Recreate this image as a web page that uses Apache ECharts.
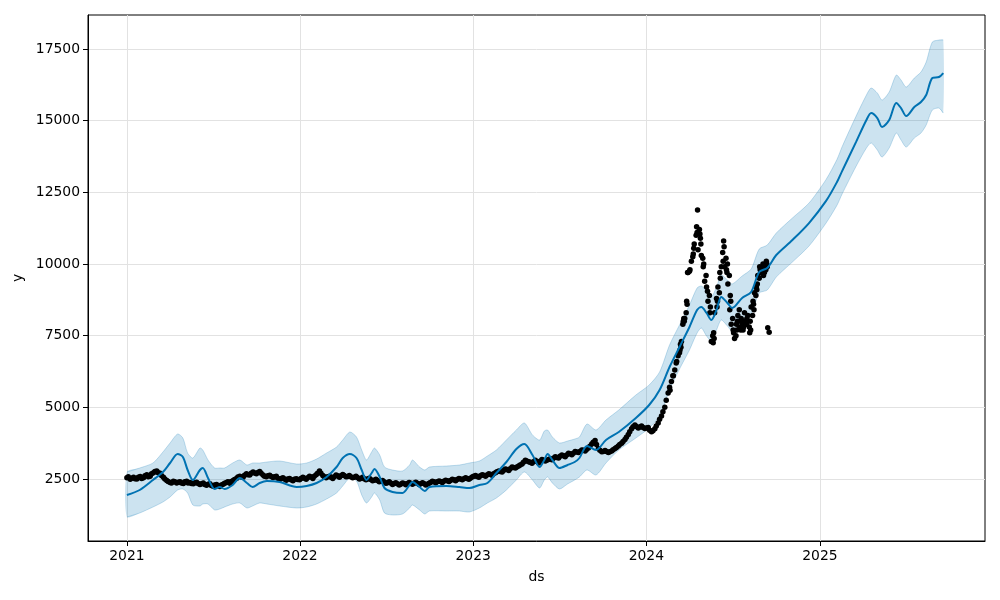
<!DOCTYPE html>
<html><head><meta charset="utf-8">
<script src="https://cdn.jsdelivr.net/npm/echarts@6/dist/echarts.min.js"></script>
<style>html,body{margin:0;padding:0;background:#fff}#c{width:1000px;height:600px}</style>
</head><body><div id="c"></div>
<script>
// ---- Forecast (yhat, yhat_lower, yhat_upper) ----
const fcDates = ['2021-01-01','2021-01-28','2021-02-25','2021-03-18','2021-04-02','2021-04-18','2021-04-29','2021-05-09','2021-05-20','2021-06-04',
'2021-06-10','2021-06-21','2021-07-05','2021-07-16','2021-07-26','2021-08-12','2021-08-27','2021-09-11','2021-09-23','2021-10-08',
'2021-10-23','2021-11-19','2021-12-25','2022-01-15','2022-02-05','2022-02-26','2022-03-19','2022-04-01','2022-04-16','2022-04-30',
'2022-05-11','2022-05-21','2022-06-01','2022-06-07','2022-06-18','2022-06-28','2022-07-15','2022-08-05','2022-08-20','2022-08-26',
'2022-09-10','2022-09-21','2022-10-01','2022-11-06','2022-12-03','2022-12-24','2023-01-14','2023-01-31','2023-02-19','2023-03-12',
'2023-04-02','2023-04-19','2023-05-06','2023-05-21','2023-05-31','2023-06-07','2023-06-17','2023-07-02','2023-07-19','2023-08-03',
'2023-08-13','2023-08-29','2023-09-17','2023-10-08','2023-11-04','2023-12-10','2024-01-07','2024-01-29','2024-02-19','2024-03-11',
'2024-04-01','2024-04-17','2024-04-26','2024-05-07','2024-05-17','2024-05-28','2024-06-07','2024-06-20','2024-06-30','2024-07-21',
'2024-08-09','2024-08-26','2024-09-12','2024-10-01','2024-11-04','2024-12-09','2025-01-14','2025-02-06','2025-02-17','2025-03-18',
'2025-04-09','2025-04-19','2025-05-02','2025-05-12','2025-05-27','2025-06-11','2025-06-21','2025-07-02','2025-07-19','2025-08-02',
'2025-08-13','2025-08-26','2025-09-09','2025-09-18'];
const yhat = [1942,2116,2465,2744,3058,3372,3267,2814,2465,2814,
2884,2535,2151,2221,2151,2291,2535,2360,2221,2360,
2430,2395,2221,2256,2360,2570,2919,3232,3372,3232,
2814,2465,2709,2849,2570,2186,2047,2012,2291,2395,
2221,2081,2221,2256,2221,2186,2291,2360,2709,3093,
3546,3721,3337,2919,3163,3372,3163,2884,2988,3093,
3232,3651,3512,3860,4139,4628,5081,5604,6407,7104,
7802,8395,8499,8290,8046,8395,8848,8639,8464,8813,
9023,9720,9860,10313,10836,11429,12200,12860,13250,14250,
15022,15266,15092,14778,15022,15615,15440,15161,15475,15650,
15894,16487,16522,16661];
const yhatUpper = [2744,2884,3058,3442,3756,4070,3930,3407,3232,3581,
3512,3163,2884,2884,2884,3058,3163,2988,3058,3058,
3093,3128,3023,3058,3198,3407,3616,3860,4139,3965,
3512,3163,3442,3581,3337,2919,2814,2779,2988,3163,
2919,2814,2919,2953,2988,3058,3128,3302,3512,3860,
4209,4453,4035,3860,4174,4209,3965,3756,3825,3895,
3965,4418,4209,4558,4907,5430,5779,6232,7174,7872,
8569,9162,9232,9057,8848,9197,9616,9441,9302,9581,
9825,10522,10662,11080,11604,12127,12950,13650,14100,15150,
15894,16138,15964,15720,15999,16592,16417,16173,16487,16696,
17045,17743,17812,17812];
const yhatLower = [1175,1314,1523,1698,1872,2116,2151,2012,1593,1558,
1628,1628,1419,1454,1523,1628,1663,1488,1558,1663,
1628,1558,1488,1523,1628,1802,2012,2256,2535,2430,
1942,1663,1872,2012,1767,1314,1244,1279,1488,1593,
1419,1279,1384,1384,1384,1349,1488,1663,1837,2116,
2465,2744,2465,2186,2465,2570,2360,2151,2326,2465,
2570,2814,2640,3058,3512,3930,4279,4697,5604,6337,
7000,7592,7767,7488,7313,7697,8046,7837,7662,8011,
8255,8988,9092,9546,10069,10627,11430,12050,12450,13400,
14045,14220,13976,13731,14045,14568,14324,14080,14394,14568,
14848,15371,15440,15266];

// ---- Observed points (Fridays + 2024 days) ----
const obsDates = [
'2021-01-01','2021-01-08','2021-01-15','2021-01-22','2021-01-29','2021-02-05','2021-02-12','2021-02-19','2021-02-26','2021-03-05',
'2021-03-12','2021-03-19','2021-03-26','2021-04-02','2021-04-09','2021-04-16','2021-04-23','2021-04-30','2021-05-07','2021-05-14',
'2021-05-21','2021-05-28','2021-06-04','2021-06-11','2021-06-18','2021-06-25','2021-07-02','2021-07-09','2021-07-16','2021-07-23',
'2021-07-30','2021-08-06','2021-08-13','2021-08-20','2021-08-27','2021-09-03','2021-09-10','2021-09-17','2021-09-24','2021-10-01',
'2021-10-08','2021-10-15','2021-10-22','2021-10-29','2021-11-05','2021-11-12','2021-11-19','2021-11-26','2021-12-03','2021-12-10',
'2021-12-17','2021-12-24','2021-12-31',
'2022-01-07','2022-01-14','2022-01-21','2022-01-28','2022-02-04','2022-02-11','2022-02-18','2022-02-25',
'2022-03-04','2022-03-11','2022-03-18','2022-03-25','2022-04-01','2022-04-08','2022-04-15','2022-04-22','2022-04-29',
'2022-05-06','2022-05-13','2022-05-20','2022-05-27','2022-06-03','2022-06-10','2022-06-17','2022-06-24',
'2022-07-01','2022-07-08','2022-07-15','2022-07-22','2022-07-29','2022-08-05','2022-08-12','2022-08-19','2022-08-26',
'2022-09-02','2022-09-09','2022-09-16','2022-09-23','2022-09-30','2022-10-07','2022-10-14','2022-10-21','2022-10-28',
'2022-11-04','2022-11-11','2022-11-18','2022-11-25','2022-12-02','2022-12-09','2022-12-16','2022-12-23','2022-12-30',
'2023-01-06','2023-01-13','2023-01-20','2023-01-27','2023-02-03','2023-02-10','2023-02-17','2023-02-24',
'2023-03-03','2023-03-10','2023-03-17','2023-03-24','2023-03-31','2023-04-07','2023-04-14','2023-04-21','2023-04-28',
'2023-05-05','2023-05-12','2023-05-19','2023-05-26','2023-06-02','2023-06-09','2023-06-16','2023-06-23','2023-06-30',
'2023-07-07','2023-07-14','2023-07-21','2023-07-28','2023-08-04','2023-08-11','2023-08-18','2023-08-25',
'2023-09-01','2023-09-08','2023-09-15','2023-09-22','2023-09-29','2023-10-06','2023-10-13','2023-10-20','2023-10-27',
'2023-11-03','2023-11-10','2023-11-17','2023-11-24','2023-12-01','2023-12-08','2023-12-15','2023-12-22','2023-12-29',
'2024-01-05','2024-01-12','2024-01-19','2024-01-26','2024-02-02','2024-02-09','2024-02-16','2024-02-23',
'2024-03-01','2024-03-08','2024-03-12','2024-03-15','2024-03-19','2024-03-22','2024-03-26','2024-03-29',
'2024-04-02','2024-04-05','2024-04-09','2024-04-11','2024-04-15','2024-04-18','2024-04-19','2024-04-22','2024-04-24','2024-04-26','2024-04-30',
'2024-05-03','2024-05-07','2024-05-10','2024-05-14','2024-05-17','2024-05-20','2024-05-22','2024-05-24','2024-05-28','2024-05-31',
'2024-06-04','2024-06-07','2024-06-10','2024-06-12','2024-06-14','2024-06-18','2024-06-21','2024-06-25','2024-06-28',
'2024-07-02','2024-07-05','2024-07-09','2024-07-12','2024-07-16','2024-07-19','2024-07-23','2024-07-26','2024-07-30',
'2024-08-02','2024-08-06','2024-08-09','2024-08-13','2024-08-16','2024-08-20','2024-08-23','2024-08-27','2024-08-30',
'2024-09-03','2024-09-06','2024-09-10','2024-09-13','2024-09-16','2024-09-17'];
const obsValues = [
2540,2490,2560,2500,2590,2540,2650,2600,2720,2780,
2700,2560,2450,2380,2420,2360,2400,2340,2420,2380,
2330,2390,2310,2360,2280,2330,2250,2310,2240,2320,
2380,2350,2450,2520,2600,2560,2680,2640,2740,2680,
2760,2640,2580,2630,2550,2600,2480,2540,2460,2520,
2440,2510,2470,
2560,2490,2600,2520,2650,2780,2620,2540,
2600,2520,2640,2560,2660,2580,2620,2540,2600,
2500,2560,2470,2530,2440,2490,2400,2450,
2350,2400,2310,2370,2290,2360,2300,2380,2320,
2390,2310,2370,2290,2350,2420,2370,2430,2380,
2460,2410,2490,2440,2520,2470,2540,2490,2570,
2620,2560,2650,2600,2680,2630,2720,2780,
2740,2850,2800,2920,2880,2950,3020,3150,3100,
3050,3150,3060,3180,3130,3180,3170,3280,3230,
3340,3280,3400,3350,3460,3420,3510,3480,
3580,3720,3840,3560,3450,3490,3420,3480,3560,
3650,3750,3880,4050,4250,4380,4280,4350,4260,
4300,4150,4250,4450,4700,5000,5500,5900,
6300,6800,7000,7300,8000,8100,8700,9700,
9800,10100,10350,10700,11000,11880,10500,11200,10900,10300,
9900,9400,9200,8700,8300,7300,7500,7600,8300,8800,
9200,9700,9900,10400,10800,9900,9800,9300,8400,
7900,7700,7400,7900,8200,7800,8100,7700,8300,
7900,8200,7600,8500,8700,9000,9200,9600,9900,
9800,10000,9700,10100,7780,7620];

// ---- Observed points (Mondays 2021 - early 2024) ----
const monDates = [
'2021-01-04','2021-01-11','2021-01-18','2021-01-25','2021-02-01','2021-02-08','2021-02-15','2021-02-22','2021-03-01','2021-03-08',
'2021-03-15','2021-03-22','2021-03-29','2021-04-05','2021-04-12','2021-04-19','2021-04-26','2021-05-03','2021-05-10','2021-05-17',
'2021-05-24','2021-05-31','2021-06-07','2021-06-14','2021-06-21','2021-06-28','2021-07-05','2021-07-12','2021-07-19','2021-07-26',
'2021-08-02','2021-08-09','2021-08-16','2021-08-23','2021-08-30','2021-09-06','2021-09-13','2021-09-20','2021-09-27','2021-10-04',
'2021-10-11','2021-10-18','2021-10-25','2021-11-01','2021-11-08','2021-11-15','2021-11-22','2021-11-29','2021-12-06','2021-12-13',
'2021-12-20','2021-12-27',
'2022-01-03','2022-01-10','2022-01-17','2022-01-24','2022-01-31','2022-02-07','2022-02-14','2022-02-21','2022-02-28','2022-03-07',
'2022-03-14','2022-03-21','2022-03-28','2022-04-04','2022-04-11','2022-04-18','2022-04-25','2022-05-02','2022-05-09','2022-05-16',
'2022-05-23','2022-05-30','2022-06-06','2022-06-13','2022-06-20','2022-06-27','2022-07-04','2022-07-11','2022-07-18','2022-07-25',
'2022-08-01','2022-08-08','2022-08-15','2022-08-22','2022-08-29','2022-09-05','2022-09-12','2022-09-19','2022-09-26','2022-10-03',
'2022-10-10','2022-10-17','2022-10-24','2022-10-31','2022-11-07','2022-11-14','2022-11-21','2022-11-28','2022-12-05','2022-12-12',
'2022-12-19','2022-12-26',
'2023-01-02','2023-01-09','2023-01-16','2023-01-23','2023-01-30','2023-02-06','2023-02-13','2023-02-20','2023-02-27','2023-03-06',
'2023-03-13','2023-03-20','2023-03-27','2023-04-03','2023-04-10','2023-04-17','2023-04-24','2023-05-01','2023-05-08','2023-05-15',
'2023-05-22','2023-05-29','2023-06-05','2023-06-12','2023-06-19','2023-06-26','2023-07-03','2023-07-10','2023-07-17','2023-07-24',
'2023-07-31','2023-08-07','2023-08-14','2023-08-21','2023-08-28','2023-09-04','2023-09-11','2023-09-18','2023-09-25','2023-10-02',
'2023-10-09','2023-10-16','2023-10-23','2023-10-30','2023-11-06','2023-11-13','2023-11-20','2023-11-27','2023-12-04','2023-12-11',
'2023-12-18','2023-12-25',
'2024-01-01','2024-01-08','2024-01-15','2024-01-22','2024-01-29','2024-02-05','2024-02-12','2024-02-19','2024-02-26','2024-03-04'];
const monValues = [
2580,2530,2510,2560,2520,2610,2580,2680,2760,2720,
2620,2500,2410,2360,2400,2390,2360,2400,2360,2340,
2370,2340,2330,2310,2320,2270,2290,2260,2290,2350,
2400,2410,2480,2570,2570,2630,2650,2700,2710,2730,
2700,2600,2610,2590,2580,2530,2520,2500,2500,2470,
2490,2480,
2520,2530,2540,2570,2600,2700,2700,2580,2580,2560,
2580,2610,2610,2620,2590,2580,2560,2550,2520,2510,
2500,2480,2460,2450,2420,2400,2370,2360,2340,2330,
2320,2340,2340,2350,2350,2350,2330,2340,2320,2380,
2400,2400,2410,2420,2440,2450,2470,2480,2500,2510,
2520,2530,
2600,2590,2610,2630,2640,2660,2680,2750,2760,2800,
2830,2860,2900,2920,2990,3080,3130,3080,3100,3110,
3120,3150,3150,3200,3220,3250,3290,3310,3340,3380,
3400,3440,3460,3500,3530,3640,3780,3700,3500,3460,
3460,3450,3520,3600,3700,3810,3960,4150,4320,4330,
4310,4300,
4280,4200,4180,4350,4580,4850,5250,5700,6100,6550];

// ---- Extra observed points (Feb - Sep 2024) ----
const extraDates = [
'2024-02-20','2024-02-27','2024-03-05','2024-03-11','2024-03-13','2024-03-14','2024-03-18','2024-03-20','2024-03-21','2024-03-25','2024-03-27','2024-03-28',
'2024-04-01','2024-04-08','2024-04-10','2024-04-16','2024-04-17','2024-04-23','2024-04-25','2024-04-29','2024-05-01',
'2024-05-06','2024-05-09','2024-05-13','2024-05-15','2024-05-21','2024-05-23','2024-05-29','2024-05-30',
'2024-06-03','2024-06-05','2024-06-11','2024-06-13','2024-06-17','2024-06-19','2024-06-20','2024-06-24','2024-06-26','2024-06-27',
'2024-07-01','2024-07-03','2024-07-08','2024-07-10','2024-07-11','2024-07-15','2024-07-17','2024-07-18','2024-07-22','2024-07-24','2024-07-25','2024-07-29','2024-07-31',
'2024-08-01','2024-08-05','2024-08-07','2024-08-08','2024-08-12','2024-08-14','2024-08-15','2024-08-19','2024-08-21','2024-08-22','2024-08-26','2024-08-28','2024-08-29',
'2024-09-02','2024-09-04','2024-09-05','2024-09-09','2024-09-11','2024-09-12'];
const extraValues = [
5600,6100,6600,6900,7200,7100,7900,8100,8000,8300,8600,9700,
9750,10250,10550,11300,11100,11050,10700,10200,10000,
9600,9050,8900,8500,7250,7400,8500,8700,
9000,9500,10100,10600,10200,9700,10000,9600,8900,8700,
8100,7600,7500,7700,8000,8400,8000,7700,7900,7800,8000,7900,8100,
8000,7800,8000,7700,8200,8600,8400,8900,9100,9300,9500,9800,9700,
9900,9600,9900,9800,10000,9900];

// ---- Axes ----
const yTicks = [2500,5000,7500,10000,12500,15000,17500];
const xTickDates = ['2021-01-01','2022-01-01','2023-01-01','2024-01-01','2025-01-01'];
const xMinDate = '2020-10-11', xMaxDate = '2025-12-15';
const yMin = 337, yMax = 18686;

const ts = s => new Date(s + 'T00:00:00').getTime();
const FONT = 'DejaVu Sans';
const BLUE = '#0072B2';
const bandFill = 'rgba(0,114,178,0.2)';
const bandEdge = 'rgba(0,114,178,0.22)';

const bandData = fcDates.map((d, i) => [ts(d), yhatUpper[i], yhatLower[i]]);
const pts = (ds, vs) => ds.map((d, i) => [ts(d), vs[i]]);

function renderBand(params, api) {
  if (params.dataIndex !== 0) return null;
  const up = bandData.map(r => api.coord([r[0], r[1]]));
  const lo = bandData.map(r => api.coord([r[0], r[2]]));
  const poly = up.concat(lo.slice().reverse());
  return {
    type: 'group',
    children: [
      {type: 'polygon', shape: {points: poly, smooth: 0.25}, style: {fill: bandFill, stroke: null}},
      {type: 'polyline', shape: {points: up, smooth: 0.25}, style: {stroke: bandEdge, fill: null, lineWidth: 1}},
      {type: 'polyline', shape: {points: lo, smooth: 0.25}, style: {stroke: bandEdge, fill: null, lineWidth: 1}}
    ]
  };
}

const chart = echarts.init(document.getElementById('c'), null, {renderer: 'canvas'});
chart.setOption({
  animation: false,
  backgroundColor: '#fff',
  grid: {left: 88, right: 15, top: 15, bottom: 59, show: true, borderColor: '#000', borderWidth: 1, backgroundColor: 'transparent', containLabel: false},
  xAxis: {
    type: 'value', min: ts(xMinDate), max: ts(xMaxDate), scale: true,
    name: 'ds', nameLocation: 'middle', nameGap: 29,
    nameTextStyle: {color: '#000', fontFamily: FONT, fontSize: 13.9},
    axisLine: {show: true, onZero: false, lineStyle: {color: '#000', width: 1}},
    axisTick: {show: true, inside: false, length: 5, customValues: xTickDates.map(ts), lineStyle: {color: '#000'}},
    axisLabel: {customValues: xTickDates.map(ts), formatter: v => String(new Date(v).getFullYear()), color: '#000', fontFamily: FONT, fontSize: 13.9, margin: 8},
    splitLine: {show: true, lineStyle: {color: '#e2e2e2', width: 1}}
  },
  yAxis: {
    type: 'value', min: yMin, max: yMax,
    name: 'y', nameLocation: 'middle', nameGap: 60,
    nameTextStyle: {color: '#000', fontFamily: FONT, fontSize: 13.9},
    axisLine: {show: true, onZero: false, lineStyle: {color: '#000', width: 1}},
    axisTick: {show: true, inside: false, length: 5, customValues: yTicks, lineStyle: {color: '#000'}},
    axisLabel: {customValues: yTicks, formatter: v => String(v), color: '#000', fontFamily: FONT, fontSize: 13.9, margin: 8},
    splitLine: {show: true, lineStyle: {color: '#e2e2e2', width: 1}}
  },
  series: [
    {type: 'custom', name: 'interval', renderItem: renderBand, z: 1, silent: true,
     encode: {x: 0, y: [1, 2]}, data: bandData},
    {type: 'scatter', name: 'y', symbol: 'circle', symbolSize: 5.5, z: 3,
     itemStyle: {color: '#000', opacity: 1},
     data: pts(obsDates, obsValues).concat(pts(monDates, monValues), pts(extraDates, extraValues))},
    {type: 'line', name: 'yhat', symbol: 'none', smooth: 0.3, z: 4,
     lineStyle: {color: BLUE, width: 2},
     data: pts(fcDates, yhat)}
  ]
});
</script>
</body></html>
